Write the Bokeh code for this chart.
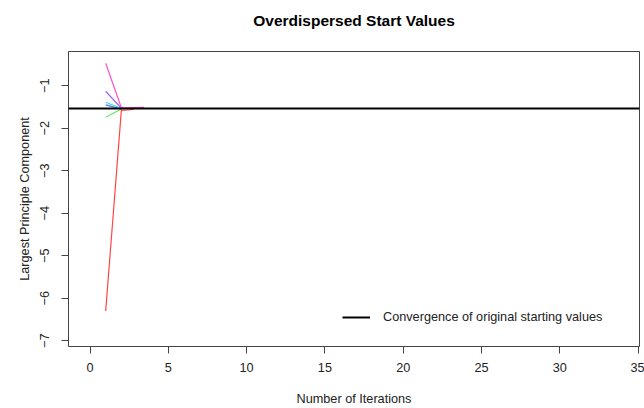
from bokeh.plotting import figure
from bokeh.models import Range1d, FixedTicker, Legend, LegendItem, Title
from bokeh.embed import file_html
from bokeh.resources import INLINE

# ---- data ----
title_text = "Overdispersed Start Values"
red_x = [1, 2, 2.8]
red_y = [-6.30, -1.58, -1.56]
green_x = [1, 2]
green_y = [-1.74, -1.55]
blue_x = [1, 2]
blue_y = [-1.45, -1.55]
cyan_x = [1, 2]
cyan_y = [-1.39, -1.54]
violet_x = [1, 2]
violet_y = [-1.13, -1.53]
magenta_x = [1, 2, 3.45]
magenta_y = [-0.47, -1.52, -1.51]
convergence_value = -1.545
x_ticks = [0, 5, 10, 15, 20, 25, 30, 35]
y_ticks = [-7, -6, -5, -4, -3, -2, -1]

FONT = "Liberation Sans"
LBL = "12.7px"

p = figure(width=644, height=408, output_backend="svg", toolbar_location=None,
           x_range=Range1d(-1.375, 35.09), y_range=Range1d(-7.136, -0.195),
           min_border_left=68, min_border_right=5, min_border_top=51,
           min_border_bottom=62)

p.title.text = title_text
p.title.align = "center"
p.title.text_font = FONT
p.title.text_font_size = "15.5px"
p.title.text_font_style = "bold"
p.title.text_color = "#000000"
p.title.standoff = 0

# empty spacer panel between the title and the plot frame
p.add_layout(Title(text=" ", text_font_size="2px", standoff=19), "above")

p.xgrid.visible = False
p.ygrid.visible = False
p.outline_line_color = "#444444"
p.outline_line_width = 1

for ax in (p.xaxis[0], p.yaxis[0]):
    ax.axis_line_color = None
    ax.major_tick_line_color = "#444444"
    ax.major_tick_out = 7
    ax.major_tick_in = 0
    ax.minor_tick_line_color = None
    ax.major_label_text_font = FONT
    ax.major_label_text_font_size = LBL
    ax.major_label_text_color = "#222222"
    ax.axis_label_text_font = FONT
    ax.axis_label_text_font_size = LBL
    ax.axis_label_text_font_style = "normal"
    ax.axis_label_text_color = "#222222"

p.xaxis.ticker = FixedTicker(ticks=x_ticks)
p.yaxis.ticker = FixedTicker(ticks=y_ticks)
p.xaxis.axis_label = "Number of Iterations"
p.yaxis.axis_label = "Largest Principle Component"
p.xaxis.major_label_standoff = 9
p.xaxis.axis_label_standoff = 17
p.yaxis.major_label_orientation = "vertical"
p.yaxis.major_label_standoff = 12
p.yaxis.axis_label_standoff = 6

series = [
    (red_x, red_y, "#FF4444"),
    (green_x, green_y, "#66E866"),
    (blue_x, blue_y, "#4C7CF0"),
    (cyan_x, cyan_y, "#44D8F0"),
    (violet_x, violet_y, "#9966FF"),
    (magenta_x, magenta_y, "#FF4FCC"),
]
for xs, ys, c in series:
    p.line(xs, ys, line_color=c, line_width=1.2)

conv = p.hspan(y=[convergence_value], line_color="#000000", line_width=2)

legend = Legend(items=[LegendItem(label="Convergence of original starting values",
                                  renderers=[conv])],
                location=(274, 21), padding=0, margin=0, spacing=0,
                glyph_width=28, glyph_height=16, label_standoff=13,
                label_text_font=FONT, label_text_font_size=LBL,
                label_text_color="#222222",
                border_line_color=None, background_fill_alpha=0)
p.add_layout(legend, "center")

open("out.html", "w").write(file_html(p, INLINE))
